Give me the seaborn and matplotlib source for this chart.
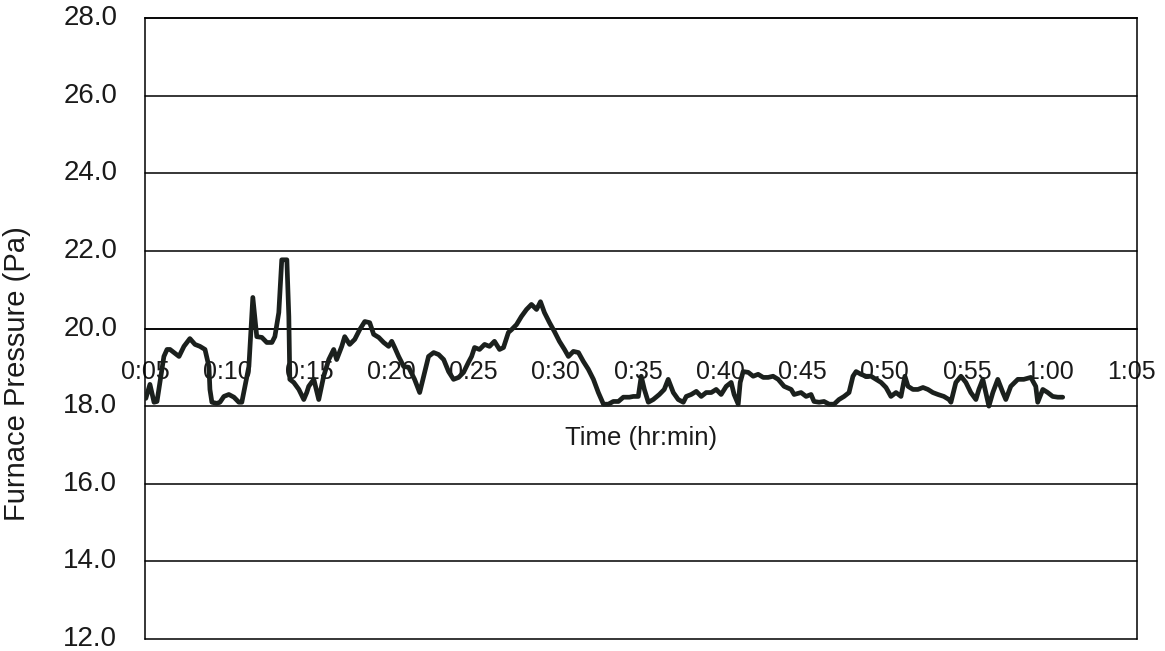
import matplotlib
matplotlib.use("Agg")
import matplotlib.pyplot as plt
import seaborn as sns
import pandas as pd

# elapsed time in minutes, furnace pressure in Pa
time_min = [
    5.05, 5.30, 5.55, 5.73, 5.91, 6.15, 6.34, 6.52, 6.76, 7.07, 7.37, 7.73, 8.04, 8.34, 8.65, 8.89,
    8.95, 9.07, 9.37, 9.56, 9.80, 10.10, 10.41, 10.71, 10.89, 11.08, 11.32, 11.38, 11.56, 11.80,
    12.11, 12.41, 12.72, 12.90, 13.14, 13.32, 13.63, 13.75, 13.81, 14.05, 14.36, 14.66, 14.84,
    14.96, 15.27, 15.57, 15.87, 16.18, 16.48, 16.66, 16.97, 17.15, 17.45, 17.76, 18.06, 18.37,
    18.67, 18.91, 19.22, 19.52, 19.82, 20.01, 20.19, 20.43, 20.74, 21.04, 21.40, 21.71, 22.01,
    22.25, 22.56, 22.86, 23.17, 23.47, 23.77, 24.08, 24.38, 24.68, 24.87,
    25.05, 25.35, 25.66, 25.96, 26.26, 26.57, 26.81, 27.11, 27.30, 27.60, 27.90, 28.21, 28.51,
    28.82, 29.06, 29.30, 29.61, 29.91, 30.21, 30.52, 30.76, 31.06, 31.37, 31.67, 31.97, 32.28,
    32.58, 32.89, 33.19, 33.49, 33.80, 34.10, 34.47,
    34.71, 35.01, 35.19, 35.38, 35.62, 35.92, 36.29, 36.59, 36.83, 37.14, 37.44, 37.75, 37.93,
    38.23, 38.54, 38.84, 39.14, 39.45, 39.75, 40.05, 40.36, 40.66, 40.84, 41.09, 41.21, 41.39,
    41.70, 42.00, 42.30, 42.61, 42.91, 43.21, 43.52, 43.88, 44.31,
    44.49, 44.91, 45.22, 45.52, 45.70, 46.01, 46.31, 46.62, 46.92, 47.22, 47.53, 47.83, 48.07,
    48.26, 48.56, 48.86, 49.17, 49.47, 49.78, 50.08, 50.38, 50.69, 50.99, 51.23, 51.42, 51.72,
    52.02, 52.33, 52.63, 52.93, 53.24, 53.60, 53.91,
    54.03, 54.33, 54.64, 54.94, 55.24, 55.55, 55.73, 55.97, 56.15, 56.34, 56.58, 56.88, 57.19,
    57.37, 57.67, 58.10, 58.46, 58.89, 59.19, 59.31, 59.62, 59.92, 60.22, 60.53, 60.83,
]
pressure_pa = [
    18.20, 18.56, 18.10, 18.12, 18.61, 19.28, 19.46, 19.46, 19.38, 19.28, 19.54, 19.74, 19.59, 19.54, 19.46, 19.02,
    18.43, 18.10, 18.07, 18.10, 18.25, 18.30, 18.23, 18.10, 18.10, 18.51, 19.02, 19.46, 20.80, 19.79,
    19.77, 19.64, 19.64, 19.79, 20.41, 21.77, 21.77, 20.31, 18.69, 18.61, 18.43, 18.17, 18.35,
    18.51, 18.69, 18.17, 18.77, 19.20, 19.46, 19.20, 19.54, 19.79, 19.59, 19.72, 19.97, 20.18,
    20.15, 19.85, 19.77, 19.64, 19.54, 19.67, 19.51, 19.28, 19.02, 19.00, 18.69, 18.35, 18.87,
    19.28, 19.38, 19.33, 19.20, 18.89, 18.69, 18.74, 18.87, 19.13, 19.28,
    19.51, 19.46, 19.59, 19.54, 19.67, 19.46, 19.51, 19.90, 19.97, 20.10, 20.31, 20.49, 20.62,
    20.49, 20.69, 20.41, 20.15, 19.92, 19.67, 19.46, 19.28, 19.41, 19.38, 19.15, 18.95, 18.69,
    18.35, 18.05, 18.05, 18.12, 18.12, 18.23, 18.23,
    18.25, 18.25, 18.77, 18.43, 18.10, 18.17, 18.30, 18.43, 18.69, 18.35, 18.17, 18.10, 18.25,
    18.30, 18.38, 18.25, 18.35, 18.35, 18.43, 18.30, 18.51, 18.61, 18.30, 18.05, 18.61, 18.89,
    18.87, 18.77, 18.82, 18.74, 18.74, 18.77, 18.69, 18.51, 18.43,
    18.30, 18.35, 18.25, 18.30, 18.12, 18.10, 18.12, 18.05, 18.05, 18.17, 18.25, 18.35, 18.77,
    18.89, 18.82, 18.77, 18.77, 18.69, 18.61, 18.48, 18.25, 18.35, 18.25, 18.77, 18.51, 18.43,
    18.43, 18.48, 18.43, 18.35, 18.30, 18.25, 18.17,
    18.10, 18.61, 18.77, 18.61, 18.35, 18.17, 18.43, 18.69, 18.35, 18.00, 18.35, 18.69, 18.35,
    18.17, 18.51, 18.69, 18.69, 18.74, 18.51, 18.10, 18.43, 18.35, 18.25, 18.23, 18.23,
]
x_ticks = [5, 10, 15, 20, 25, 30, 35, 40, 45, 50, 55, 60, 65]
x_tick_labels = ["0:05", "0:10", "0:15", "0:20", "0:25", "0:30", "0:35", "0:40",
                 "0:45", "0:50", "0:55", "1:00", "1:05"]
y_ticks = [12, 14, 16, 18, 20, 22, 24, 26, 28]
y_tick_labels = ["12.0", "14.0", "16.0", "18.0", "20.0", "22.0", "24.0", "26.0", "28.0"]

sns.set_theme(style="white")
plt.rcParams["font.family"] = ["Liberation Sans", "DejaVu Sans"]

df = pd.DataFrame({"Time": time_min, "Pressure": pressure_pa})

fig = plt.figure(figsize=(11.65, 6.51), dpi=100)
ax = fig.add_axes([145 / 1165, 1 - 639 / 651, (1137 - 145) / 1165, (639 - 18) / 651])

sns.lineplot(data=df, x="Time", y="Pressure", ax=ax, estimator=None, sort=False,
             color="#1b201d", linewidth=3.4, zorder=5)

ax.set_xlim(5.0, 65.35)
ax.set_ylim(12, 28)

# horizontal gridlines
for yv in y_ticks:
    ax.axhline(yv, color="black", linewidth=1.1, zorder=1, clip_on=False)

for side in ["left", "right", "top"]:
    ax.spines[side].set_color("black")
    ax.spines[side].set_linewidth(1.1)
ax.spines["bottom"].set_position(("data", 20))
ax.spines["bottom"].set_color("black")
ax.spines["bottom"].set_linewidth(1.1)

ax.set_xticks(x_ticks)
ax.set_xticklabels(x_tick_labels)
ax.set_yticks(y_ticks)
ax.set_yticklabels(y_tick_labels)

ax.tick_params(axis="x", direction="in", length=6.5, width=1.1, color="black",
               pad=23, labelsize=18, labelcolor="#1a1a1a")
ax.tick_params(axis="y", length=0, pad=20, labelsize=20, labelcolor="#1a1a1a")
for lbl in ax.get_yticklabels():
    lbl.set_verticalalignment("center")

ax.set_xlabel("Time (hr:min)", fontsize=18.5, color="#1a1a1a")
ax.xaxis.set_label_coords(0.5, 0.343)
ax.set_ylabel("Furnace Pressure (Pa)", fontsize=21, color="#1a1a1a")
ax.yaxis.set_label_coords(-0.115, 0.428)

fig.savefig("out.png", dpi=100, facecolor="white")
